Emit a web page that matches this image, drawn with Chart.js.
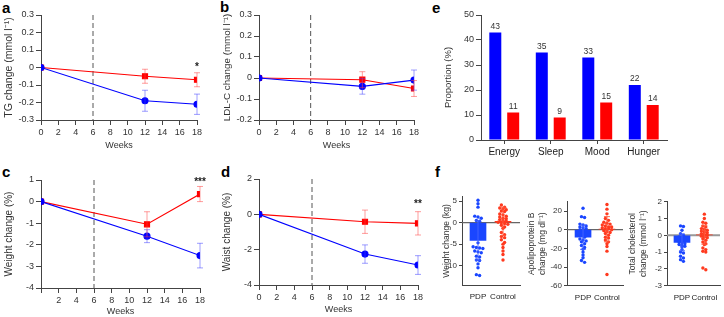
<!DOCTYPE html>
<html>
<head>
<meta charset="utf-8">
<script src="https://cdn.jsdelivr.net/npm/chart.js@4.4.0/dist/chart.umd.min.js"></script>
<style>
body { margin:0; width:724px; height:317px; overflow:hidden; position:relative; background:#fff; font-family:'Liberation Sans', Arial, sans-serif; }
canvas { position:absolute; }
.lbl { position:absolute; font-weight:bold; font-size:15px; line-height:15px; color:#000; }
</style>
</head>
<body>
<div class="lbl" style="left:2px;top:0px">a</div>
<div class="lbl" style="left:220px;top:-1px">b</div>
<div class="lbl" style="left:2px;top:164px">c</div>
<div class="lbl" style="left:221px;top:164px">d</div>
<div class="lbl" style="left:432px;top:0px">e</div>
<div class="lbl" style="left:435px;top:164px">f</div>

<canvas id="ca" width="215" height="155" style="left:0;top:0"></canvas>
<canvas id="cb" width="215" height="155" style="left:218px;top:0"></canvas>
<canvas id="cc" width="215" height="157" style="left:0;top:160px"></canvas>
<canvas id="cd" width="215" height="157" style="left:218px;top:160px"></canvas>
<canvas id="ce" width="240" height="165" style="left:440px;top:0"></canvas>
<canvas id="cf1" width="95" height="115" style="left:435px;top:190px"></canvas>
<canvas id="cf2" width="107" height="115" style="left:526px;top:190px"></canvas>
<canvas id="cf3" width="98" height="115" style="left:626px;top:190px"></canvas>

<script>
// ---- data ----
const weeks = [0, 12, 18];
const switchWeek = 6;

const tgPdp = [0, -0.19, -0.21],  tgPdpSe = [0, 0.06, 0.058];
const tgCtl = [0, -0.05, -0.07],  tgCtlSe = [0, 0.04, 0.04];
const ldlPdp = [0, -0.04, -0.01], ldlPdpSe = [0, 0.037, 0.048];
const ldlCtl = [0, -0.008, -0.05], ldlCtlSe = [0, 0.038, 0.038];
const wtPdp = [0, -1.6, -2.5],    wtPdpSe = [0, 0.3, 0.57];
const wtCtl = [0, -1.05, 0.35],   wtCtlSe = [0, 0.58, 0.35];
const waistPdp = [0, -2.25, -2.87], waistPdpSe = [0, 0.52, 0.53];
const waistCtl = [0, -0.42, -0.51], waistCtlSe = [0, 0.66, 0.66];

const symptoms = ['Energy', 'Sleep', 'Mood', 'Hunger'];
const symPdp = [43, 35, 33, 22];
const symCtl = [11, 9, 15, 14];

const groups = ['PDP', 'Control'];
const wkgPdp = [5.2, 4.4, 3.6, 1.5, 1.3, 1.0, 0.5, 0.3, -0.3, -1.2, -2.1, -3.0, -4.7, -5.6, -5.8, -5.9, -6.0, -6.6, -6.8, -7.0, -7.8, -8.0, -8.7, -8.8, -9.6, -10.5, -12.1, -12.3];
const wkgCtl = [4.1, 3.6, 3.4, 3.2, 3.0, 2.7, 2.6, 2.0, 1.8, 1.5, 1.3, 1.0, 0.9, 0.7, 0.5, 0.3, 0.1, 0.0, -0.2, -0.4, -0.6, -1.0, -1.3, -2.3, -2.8, -3.2, -3.5, -4.0, -4.6, -5.0, -5.8, -6.6, -7.4, -8.7];
const wkgMean = [-4.15, 0.3], wkgSd = [4.55, 3.3];
const wkgTicks = [5, 0, -5, -10];

const apoPdp = [23, 14, 13, 6, 5, 4, 3, 2, 1, 0, -1, -2, -3, -4, -5, -6, -8, -10, -11, -12, -13, -15, -17, -19, -21, -24, -27, -30, -33, -35];
const apoCtl = [27, 22, 17, 12, 10, 8, 7, 6, 5, 4, 3, 3, 2, 1, 1, 0, -1, -2, -3, -4, -6, -8, -9, -11, -13, -15, -18, -23, -48];
const apoMean = [-8, 0.5], apoSd = [13, 13.5];
const apoTicks = [20, 0, -20, -40, -60];

const tcPdp = [0.56, 0.52, 0.3, 0.1, 0.0, -0.1, -0.15, -0.2, -0.25, -0.3, -0.35, -0.4, -0.45, -0.5, -0.55, -0.6, -0.65, -0.7, -0.85, -1.0, -1.05, -1.25, -1.35, -1.45, -1.55];
const tcCtl = [1.26, 1.0, 0.78, 0.72, 0.55, 0.5, 0.4, 0.35, 0.3, 0.25, 0.2, 0.15, 0.1, 0.05, 0.0, -0.05, -0.1, -0.15, -0.2, -0.3, -0.4, -0.5, -0.55, -0.75, -0.85, -0.95, -1.0, -1.95, -2.05];
const tcMean = [-0.42, 0.02], tcSd = [0.5, 0.55];
const tcTicks = [2, 1, 0, -1, -2, -3];

// ---- styling ----
const BLUE = '#0000ff', RED = '#ff0000';
const FBLUE = '#1a46ff', FRED = '#ff3a1f';
const AX = '#444';
const FAM = "'Liberation Sans', Arial, sans-serif";
Chart.defaults.font.family = FAM;
Chart.defaults.font.size = 9;
Chart.defaults.color = '#333';

const fmt = v => String(+v.toFixed(2));

// error bars drawn from dataset.err (one value per point)
const errBars = {
  id: 'errBars',
  afterDatasetsDraw(chart) {
    const { ctx } = chart;
    chart.data.datasets.forEach((ds, di) => {
      if (!ds.err) return;
      const meta = chart.getDatasetMeta(di), y = chart.scales.y;
      ctx.save();
      ctx.lineWidth = 1;
      ds.data.forEach((p, i) => {
        const e = ds.err[i];
        if (!e) return;
        const px = meta.data[i].x, py = typeof p === 'object' ? p.y : p;
        const y1 = y.getPixelForValue(py + e), y2 = y.getPixelForValue(py - e);
        ctx.strokeStyle = Array.isArray(ds.errColor) ? ds.errColor[i] : ds.errColor;
        ctx.beginPath();
        ctx.moveTo(px, y1); ctx.lineTo(px, y2);
        ctx.moveTo(px - 3, y1); ctx.lineTo(px + 3, y1);
        ctx.moveTo(px - 3, y2); ctx.lineTo(px + 3, y2);
        ctx.stroke();
      });
      ctx.restore();
    });
  }
};

const vline = {
  id: 'vline',
  beforeDatasetsDraw(chart, args, o) {
    if (o.x == null) return;
    const { ctx, chartArea: a } = chart, px = chart.scales.x.getPixelForValue(o.x);
    ctx.save();
    ctx.strokeStyle = '#555'; ctx.lineWidth = 1; ctx.setLineDash([5, 3]);
    ctx.beginPath(); ctx.moveTo(px, a.top); ctx.lineTo(px, a.bottom); ctx.stroke();
    ctx.restore();
  }
};

const stars = {
  id: 'stars',
  afterDatasetsDraw(chart, args, o) {
    if (!o.text) return;
    const { ctx } = chart;
    ctx.save();
    ctx.fillStyle = '#222'; ctx.font = 'bold 10px ' + FAM;
    ctx.textAlign = 'center'; ctx.textBaseline = 'middle';
    ctx.fillText(o.text, chart.scales.x.getPixelForValue(o.x), chart.scales.y.getPixelForValue(o.y));
    ctx.restore();
  }
};

const zeroLine = {
  id: 'zeroLine',
  beforeDatasetsDraw(chart, args, o) {
    if (!o.color) return;
    const { ctx, chartArea: a } = chart, py = chart.scales.y.getPixelForValue(0);
    ctx.save();
    ctx.strokeStyle = o.color; ctx.lineWidth = o.width;
    ctx.beginPath(); ctx.moveTo(a.left, py); ctx.lineTo(a.right, py); ctx.stroke();
    ctx.restore();
  }
};

const barValues = {
  id: 'barValues',
  afterDatasetsDraw(chart, args, o) {
    if (!o.on) return;
    const { ctx } = chart;
    ctx.save();
    ctx.fillStyle = '#333'; ctx.font = '8.5px ' + FAM;
    ctx.textAlign = 'center'; ctx.textBaseline = 'bottom';
    chart.data.datasets.forEach((ds, di) => {
      chart.getDatasetMeta(di).data.forEach((bar, i) => ctx.fillText(ds.data[i], bar.x, bar.y - 2));
    });
    ctx.restore();
  }
};

function axis(extra) {
  return Object.assign({
    grid: { drawOnChartArea: false, color: AX, tickLength: 5 },
    border: { color: AX, width: 1 },
  }, extra);
}

function pts(vals) { return weeks.map((w, i) => ({ x: w, y: vals[i] })); }

function linePanel(id, o) {
  new Chart(document.getElementById(id), {
    type: 'scatter',
    data: {
      datasets: [
        { data: pts(o.pdp), err: o.pdpSe, errColor: 'rgba(60,60,255,0.5)', showLine: true,
          borderColor: BLUE, backgroundColor: BLUE, borderWidth: 1.1, pointStyle: 'circle', pointRadius: 3 },
        { data: pts(o.ctl), err: o.ctlSe, errColor: 'rgba(255,60,60,0.5)', showLine: true,
          borderColor: RED, backgroundColor: RED, borderWidth: 1.1, pointStyle: 'rect', pointRadius: 3.6 }
      ]
    },
    options: {
      responsive: false, animation: false,
      layout: { padding: { top: o.top, right: o.right } },
      plugins: { legend: { display: false }, tooltip: { enabled: false }, vline: { x: switchWeek }, stars: o.stars || {} },
      scales: {
        x: axis({
          type: 'linear', min: 0, max: 18,
          afterFit: s => { s.height = o.xh; },
          ticks: { stepSize: 2, padding: 2, callback: v => (o.no0 && v === 0) ? '' : v },
          title: { display: true, text: 'Weeks', font: { size: 9 }, padding: { top: 0, bottom: o.tpad } }
        }),
        y: axis({
          min: o.ymin, max: o.ymax,
          afterFit: s => { s.width = 41; },
          ticks: { stepSize: o.step, padding: 2, callback: fmt },
          title: { display: true, text: o.title, font: { size: o.tsize }, padding: { top: 3, bottom: 0 } }
        })
      }
    },
    plugins: [vline, errBars, stars]
  });
}

linePanel('ca', { pdp: tgPdp, pdpSe: tgPdpSe, ctl: tgCtl, ctlSe: tgCtlSe, ymin: -0.3, ymax: 0.3, step: 0.1, tsize: 10.5,
  title: 'TG change (mmol l⁻¹)', top: 15, right: 18, xh: 35, tpad: 4, stars: { text: '*', x: 18, y: 0.0 } });
linePanel('cb', { pdp: ldlPdp, pdpSe: ldlPdpSe, ctl: ldlCtl, ctlSe: ldlCtlSe, ymin: -0.2, ymax: 0.3, step: 0.1, tsize: 9.8,
  title: 'LDL-C change (mmol l⁻¹)', top: 15, right: 19, xh: 35, tpad: 4 });
linePanel('cc', { pdp: wtPdp, pdpSe: wtPdpSe, ctl: wtCtl, ctlSe: wtCtlSe, ymin: -4, ymax: 1, step: 1, no0: true, tsize: 10,
  title: 'Weight change (%)', top: 20, right: 15, xh: 29, tpad: 0, stars: { text: '***', x: 18, y: 0.9 } });
linePanel('cd', { pdp: waistPdp, pdpSe: waistPdpSe, ctl: waistCtl, ctlSe: waistCtlSe, ymin: -4, ymax: 2, step: 2, tsize: 10,
  title: 'Waist change (%)', top: 19, right: 15, xh: 32, tpad: 2, stars: { text: '**', x: 18, y: 0.55 } });

// ---- panel e ----
new Chart(document.getElementById('ce'), {
  type: 'bar',
  data: {
    labels: symptoms,
    datasets: [
      { data: symPdp, backgroundColor: BLUE },
      { data: symCtl, backgroundColor: RED }
    ]
  },
  options: {
    responsive: false, animation: false,
    categoryPercentage: 0.77, barPercentage: 0.67,
    layout: { padding: { top: 15, right: 13 } },
    plugins: { legend: { display: false }, tooltip: { enabled: false }, barValues: { on: true } },
    scales: {
      x: axis({
        grid: { offset: false, drawOnChartArea: false, color: AX, tickLength: 4 },
        afterFit: s => { s.height = 25; },
        ticks: { font: { size: 10 }, color: '#222', padding: 2 }
      }),
      y: axis({
        min: 0, max: 50,
        afterFit: s => { s.width = 41; },
        ticks: { stepSize: 10, padding: 2 },
        title: { display: true, text: 'Proportion (%)', font: { size: 9.5 }, padding: { top: 3, bottom: 0 } }
      })
    }
  },
  plugins: [barValues]
});

// ---- panel f ----
// spread points of similar value sideways (deterministic beeswarm by value bins)
function swarm(vals, cx, bin, step) {
  const sorted = vals.slice().sort((a, b) => b - a), out = [];
  let grp = [];
  const flush = () => {
    grp.forEach((v, i) => out.push({ x: cx + (i - (grp.length - 1) / 2) * step, y: v }));
    grp = [];
  };
  sorted.forEach(v => {
    if (grp.length && grp[0] - v >= bin) flush();
    grp.push(v);
  });
  flush();
  return out;
}

function dotPanel(id, o) {
  new Chart(document.getElementById(id), {
    type: 'bar',
    data: {
      datasets: [
        { type: 'bar', data: [{ x: 1, y: o.mean[0] }, { x: 2, y: o.mean[1] }], backgroundColor: [FBLUE, FRED],
          barThickness: 16, err: o.sd, errColor: ['rgba(70,100,255,0.9)', 'rgba(255,90,60,0.9)'] },
        { type: 'scatter', data: swarm(o.pdp, 1, o.bin, 0.13), backgroundColor: FBLUE, pointRadius: 1.7, borderWidth: 0 },
        { type: 'scatter', data: swarm(o.ctl, 2, o.bin, 0.13), backgroundColor: FRED, pointRadius: 1.7, borderWidth: 0 }
      ]
    },
    options: {
      responsive: false, animation: false,
      layout: { padding: { top: o.top, right: o.right } },
      plugins: { legend: { display: false }, tooltip: { enabled: false }, zeroLine: { color: o.zc, width: o.zw } },
      scales: {
        x: {
          type: 'linear', min: o.xmin, max: o.xmax, offset: false,
          afterBuildTicks: s => { s.ticks = [{ value: 1 }, { value: 2 }]; },
          afterFit: s => { s.height = o.xh; },
          grid: { display: false }, border: { color: AX },
          ticks: { padding: -1, color: '#222', font: { size: 8 }, callback: v => groups[v - 1] || '' }
        },
        y: {
          min: o.ymin, max: o.ymax,
          afterBuildTicks: s => { s.ticks = o.ticks.map(v => ({ value: v })); },
          afterFit: s => { s.width = o.yw; },
          grid: { drawOnChartArea: false, color: AX, tickLength: 3 }, border: { color: AX },
          ticks: { padding: 2, font: { size: 8 } },
          title: { display: true, text: o.title, font: { size: 8.5, lineHeight: 1.3 }, padding: { top: o.tpad, bottom: 0 } }
        }
      }
    },
    plugins: [zeroLine, errBars]
  });
}

dotPanel('cf1', { pdp: wkgPdp, ctl: wkgCtl, mean: wkgMean, sd: wkgSd, ticks: wkgTicks, ymin: -14.5, ymax: 6,
  title: 'Weight change (kg)', bin: 0.6, xmin: 0.36, xmax: 2.68, yw: 27, top: 6, right: 10, xh: 20, tpad: 6, zc: '#666', zw: 1.2 });
dotPanel('cf2', { pdp: apoPdp, ctl: apoCtl, mean: apoMean, sd: apoSd, ticks: apoTicks, ymin: -60, ymax: 30,
  title: ['Apolipoprotein B', 'change (mg dl⁻¹)'], bin: 2.6, xmin: 0.33, xmax: 2.67, yw: 41, top: 11.7, right: 10, xh: 19.3, tpad: 0.5, zc: '#666', zw: 1.2 });
dotPanel('cf3', { pdp: tcPdp, ctl: tcCtl, mean: tcMean, sd: tcSd, ticks: tcTicks, ymin: -3, ymax: 2,
  title: ['Total cholesterol', 'change (mmol l⁻¹)'], bin: 0.14, xmin: 0.33, xmax: 2.7, yw: 41, top: 11.7, right: 0, xh: 19.3, tpad: 1.5, zc: '#999', zw: 2 });
</script>
</body>
</html>
